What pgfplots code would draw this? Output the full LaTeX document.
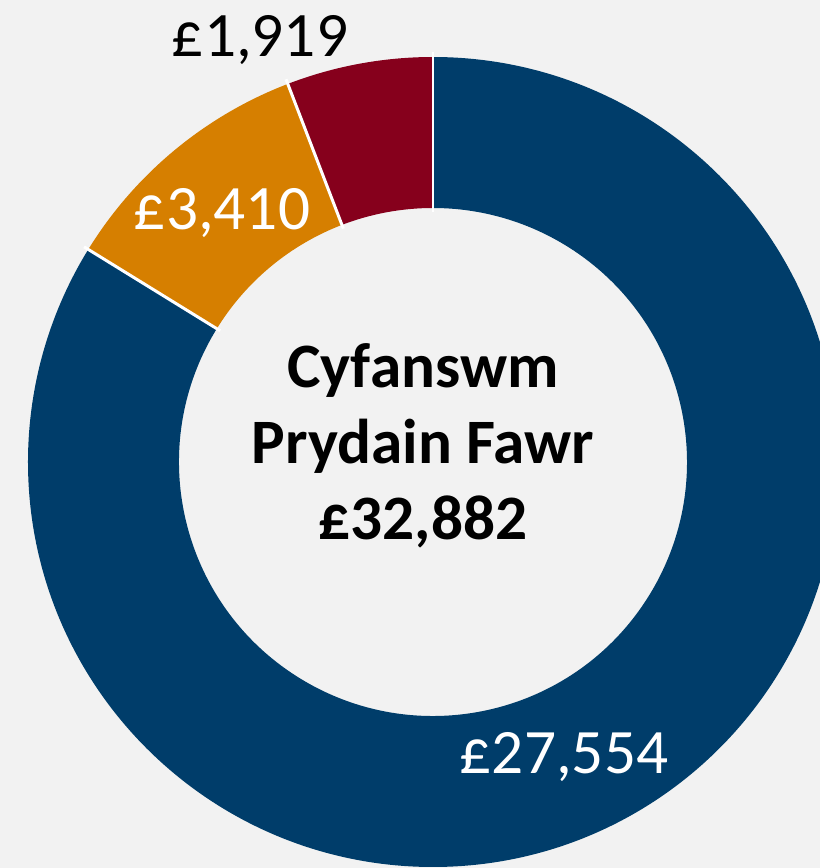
\documentclass[border=0pt]{standalone}
\usepackage{fontspec}
\setmainfont{Carlito}
\usepackage{pgfplots}
\usepackage{pgfplotstable}
\pgfplotsset{compat=1.18}
\definecolor{bgc}{RGB}{242,242,242}
\definecolor{navy}{RGB}{0,61,106}
\definecolor{amber}{RGB}{214,127,0}
\definecolor{wine}{RGB}{134,0,28}

\pgfplotstableread{
part value
gb 27554
two 3410
three 1919
}\slices

\pgfplotstablegetelem{0}{value}\of\slices \let\valA\pgfplotsretval
\pgfplotstablegetelem{1}{value}\of\slices \let\valB\pgfplotsretval
\pgfplotstablegetelem{2}{value}\of\slices \let\valC\pgfplotsretval
% angles, clockwise from the top (\fpeval copes with the large values)
\edef\total{\fpeval{\valA+\valB+\valC}}
\edef\angA{90}
\edef\angB{\fpeval{round(90-360*\valA/\total,3)}}
\edef\angC{\fpeval{round(\angB-360*\valB/\total,3)}}
\edef\angD{\fpeval{round(\angC-360*\valC/\total,3)}}

\def\Ro{8.1cm}
\def\Ri{5.08cm}
% ring segment between two angles, centre at (433,406) in axis units
\newcommand\ringslice[3]{%
  \fill[#1] ([shift={(#2:\Ro)}]axis cs:433,406) arc[start angle=#2, end angle=#3, radius=\Ro]
     -- ([shift={(#3:\Ri)}]axis cs:433,406) arc[start angle=#3, end angle=#2, radius=\Ri] -- cycle;}
\newcommand\sepline[1]{%
  \draw[white, line width=1.7pt] ([shift={(#1:5.0cm)}]axis cs:433,406) -- ([shift={(#1:8.2cm)}]axis cs:433,406);}

\begin{document}
\begin{tikzpicture}
\begin{axis}[
    name=ax,
    width=16.4cm, height=17.36cm, scale only axis,
    xmin=0, xmax=820, ymin=0, ymax=868,
    axis line style={draw=none}, ticks=none,
    axis background/.style={fill=bgc},
    clip=true,
    ]
\ringslice{navy}{\angA}{\angB}
\ringslice{amber}{\angB}{\angC}
\ringslice{wine}{\angC}{\angD}
\sepline{\angA}
\sepline{\angB}
\sepline{\angC}
\begin{scope}[every node/.style={font=\fontsize{36}{43}\selectfont, inner sep=0pt, anchor=base}]
\node[black] at (axis cs:260,811) {£1,919};
\node[white] at (axis cs:222,638) {£3,410};
\node[white] at (axis cs:564,94) {£27,554};
\node[black, font=\fontsize{36}{43}\selectfont\bfseries] at (axis cs:423,480) {Cyfanswm};
\node[black, font=\fontsize{36}{43}\selectfont\bfseries] at (axis cs:423,404) {Prydain Fawr};
\node[black, font=\fontsize{36}{43}\selectfont\bfseries] at (axis cs:423,328) {£32,882};
\end{scope}
\end{axis}
\pgfresetboundingbox
\path (ax.south west) rectangle (ax.north east);
\end{tikzpicture}
\end{document}
